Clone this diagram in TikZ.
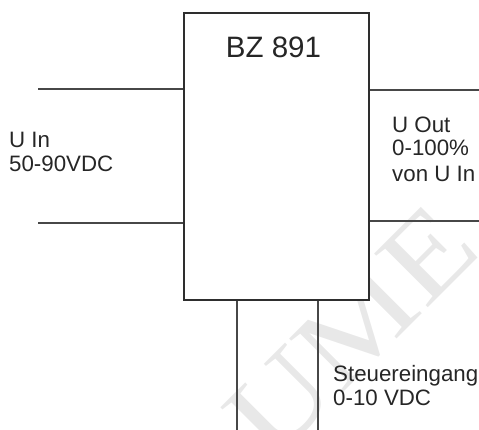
\documentclass[tikz,border=0pt]{standalone}
\usepackage{fontspec}
\setmainfont{Liberation Sans}
\newfontfamily\wmfont{Liberation Serif}
\tikzset{
  wire/.style={draw=black!72, line width=1.3pt},
  blockbox/.style={draw=black!82, line width=1.2pt, fill=white, minimum width=185pt, minimum height=287pt, inner sep=0pt},
  lbl/.style={anchor=base west, inner sep=0pt, text=black!85, font=\fontsize{22.3}{24}\selectfont},
  watermark/.style={text=black!9, inner sep=0pt, anchor=base west, rotate=45, font=\wmfont\fontsize{116}{116}\selectfont}
}
\begin{document}
\begin{tikzpicture}[x=1pt,y=-1pt]
\useasboundingbox (0,0) rectangle (479,430);
\begin{scope}
\clip (0,0) rectangle (479,430);
\node[watermark] (wm) at (272,464) {\scalebox{1.16}[1]{UME}};
\end{scope}
\node[blockbox] (bz) at (276.5,156.5) {};
\node[anchor=base, inner sep=0pt, text=black!85, font=\fontsize{29.5}{32}\selectfont] (title) at (273.5,58) {BZ 891};
\coordinate (inA) at (38,89);
\coordinate (inB) at (38,223);
\coordinate (outA) at (479,90);
\coordinate (outB) at (479,221);
\coordinate (ctlA) at (237,430);
\coordinate (ctlB) at (318,430);
\draw[wire] (inA) -- (inA -| bz.west);
\draw[wire] (inB) -- (inB -| bz.west);
\draw[wire] (outA -| bz.east) -- (outA);
\draw[wire] (outB -| bz.east) -- (outB);
\draw[wire] (bz.south -| ctlA) -- (ctlA);
\draw[wire] (bz.south -| ctlB) -- (ctlB);
\node[lbl] (uin) at (9,148) {U In};
\node[lbl] (uinv) at (9,172) {50-90VDC};
\node[lbl] (uout) at (392,133) {U Out};
\node[lbl] (uoutp) at (392,156) {0-100\%};
\node[lbl] (uoutv) at (392,182) {von U In};
\node[lbl] (st) at (333,381) {Steuereingang};
\node[lbl] (stv) at (333,405) {0-10 VDC};
\end{tikzpicture}
\end{document}
